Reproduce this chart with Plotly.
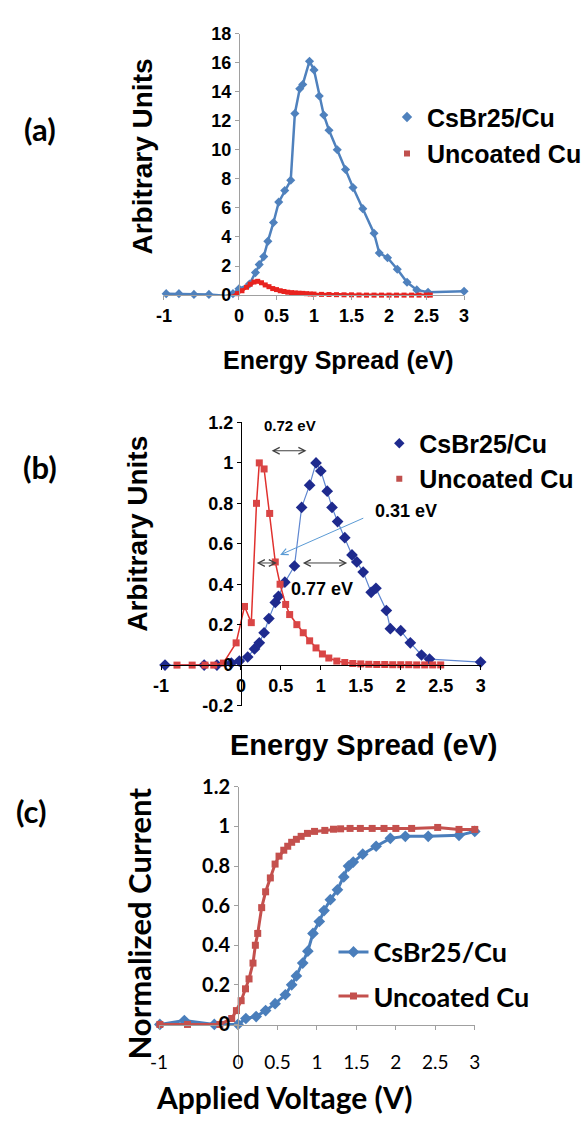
import plotly.graph_objects as go

# ---------------- Panel (a): energy spread, arbitrary units ----------------
a_cs_x = [-0.97, -0.8, -0.6, -0.4, -0.18, -0.08, 0.0, 0.14, 0.22, 0.27, 0.33, 0.385, 0.46, 0.53,
          0.61, 0.69, 0.745, 0.81, 0.85, 0.94, 1.0, 1.07, 1.13, 1.2, 1.31, 1.42, 1.52, 1.65,
          1.8, 1.87, 1.98, 2.11, 2.24, 2.37, 2.52, 3.0]
a_cs_y = [0.1, 0.1, 0.05, 0.05, -0.05, 0.1, 0.43, 0.76, 1.55, 2.1, 2.65, 3.7, 5.0, 6.4,
          7.2, 7.9, 12.5, 14.2, 14.5, 16.1, 15.5, 13.7, 12.4, 11.35, 10.0, 8.65, 7.4, 5.95,
          4.26, 2.9, 2.57, 1.78, 0.88, 0.36, 0.2, 0.27]
a_cu_x = [-0.62, -0.55, -0.45, -0.35, -0.25, -0.15, -0.08, -0.02, 0.04, 0.1, 0.15, 0.2, 0.25,
          0.3, 0.35, 0.4, 0.45, 0.5, 0.55, 0.6, 0.65, 0.7, 0.75, 0.8, 0.85, 0.9, 0.95, 1.0,
          1.1, 1.2, 1.3, 1.4, 1.5, 1.6, 1.7, 1.8, 1.9, 2.0, 2.1, 2.2, 2.3, 2.4, 2.5, 2.55]
a_cu_y = [-0.1, -0.1, -0.12, -0.1, -0.1, -0.12, -0.05, 0.1, 0.3, 0.54, 0.75, 0.9, 0.95,
          0.85, 0.7, 0.58, 0.45, 0.38, 0.3, 0.25, 0.2, 0.17, 0.15, 0.13, 0.12, 0.1, 0.08, 0.07,
          0.05, 0.04, 0.03, 0.02, 0.02, 0.01, 0.0, 0.0, 0.0, 0.0, 0.0, 0.0, 0.0, 0.0, 0.0, 0.0]

# ---------------- Panel (b): normalized energy spread ----------------
b_cs_x = [-0.95, -0.46, -0.3, -0.12, -0.02, 0.085, 0.17, 0.23, 0.29, 0.35, 0.43, 0.47, 0.55,
          0.67, 0.76, 0.86, 0.94, 1.0, 1.08, 1.14, 1.21, 1.30, 1.39, 1.45, 1.53, 1.63, 1.69,
          1.82, 1.87, 2.0, 2.12, 2.26, 2.36, 3.0]
b_cs_y = [0.0, 0.0, 0.0, 0.01, 0.02, 0.04, 0.08, 0.11, 0.16, 0.23, 0.31, 0.34, 0.41,
          0.49, 0.78, 0.89, 1.0, 0.96, 0.86, 0.78, 0.71, 0.63, 0.545, 0.51, 0.46, 0.36, 0.38,
          0.27, 0.18, 0.17, 0.11, 0.05, 0.03, 0.015]
b_cu_x = [-0.8, -0.61, -0.45, -0.34, -0.22, -0.06, 0.045, 0.13, 0.195, 0.23, 0.29, 0.36, 0.43,
          0.49, 0.56, 0.61, 0.7, 0.78, 0.86, 0.94, 1.02, 1.1, 1.2, 1.3, 1.4, 1.5, 1.6, 1.7,
          1.8, 1.9, 2.0, 2.1, 2.2, 2.3, 2.4, 2.5]
b_cu_y = [0.0, 0.0, 0.0, 0.0, 0.01, 0.11, 0.29, 0.21, 0.80, 1.0, 0.97, 0.75, 0.51,
          0.40, 0.30, 0.25, 0.20, 0.16, 0.12, 0.085, 0.055, 0.035, 0.02, 0.013, 0.008, 0.006,
          0.004, 0.003, 0.003, 0.002, 0.002, 0.002, 0.001, 0.001, 0.001, 0.001]

# ---------------- Panel (c): normalized current vs applied voltage ----------------
c_cs_x = [-0.99, -0.68, -0.3, 0.0, 0.1, 0.23, 0.35, 0.47, 0.6, 0.68, 0.74, 0.82, 0.885, 0.95,
          1.03, 1.09, 1.17, 1.26, 1.34, 1.4, 1.46, 1.58, 1.75, 1.93, 2.12, 2.41, 2.8, 3.0]
c_cs_y = [0.0, 0.02, 0.0, 0.0, 0.03, 0.04, 0.07, 0.105, 0.15, 0.2, 0.245, 0.31, 0.37, 0.46,
          0.52, 0.575, 0.63, 0.68, 0.745, 0.8, 0.82, 0.86, 0.9, 0.94, 0.95, 0.95, 0.955, 0.975]
c_cu_x = [-0.99, -0.64, -0.23, -0.08, -0.02, 0.04, 0.095, 0.14, 0.19, 0.22, 0.25, 0.3, 0.35,
          0.41, 0.47, 0.52, 0.58, 0.63, 0.68, 0.74, 0.8, 0.88, 0.97, 1.1, 1.21, 1.3, 1.42,
          1.55, 1.7, 1.85, 2.0, 2.2, 2.53, 2.8, 3.0]
c_cu_y = [0.0, 0.0, 0.0, 0.03, 0.07, 0.12, 0.18, 0.23, 0.31, 0.4, 0.46, 0.59, 0.67,
          0.74, 0.81, 0.85, 0.88, 0.9, 0.92, 0.935, 0.95, 0.965, 0.975, 0.98, 0.986, 0.988,
          0.99, 0.99, 0.99, 0.99, 0.99, 0.99, 0.995, 0.985, 0.985]

series_names = ["CsBr25/Cu", "Uncoated Cu"]
x_ticks = [-1, 0, 0.5, 1, 1.5, 2, 2.5, 3]
x_ticktext = ["-1", "0", "0.5", "1", "1.5", "2", "2.5", "3"]
a_yticks = [0, 2, 4, 6, 8, 10, 12, 14, 16, 18]
b_yticks = [-0.2, 0, 0.2, 0.4, 0.6, 0.8, 1, 1.2]
b_yticktext = ["-0.2", "0", "0.2", "0.4", "0.6", "0.8", "1", "1.2"]
c_yticks = [0, 0.2, 0.4, 0.6, 0.8, 1, 1.2]
c_yticktext = ["0", "0.2", "0.4", "0.6", "0.8", "1", "1.2"]

W, H = 587, 1125
def fx(p):
    return p / W
def fy(p):
    return 1 - p / H

ARIAL = "Arial"
CALI = "Lato"

A_BLUE, A_RED = "#4F81BD", "#E8231F"
B_NAVY, B_LBLUE, B_RED = "#1E2A8E", "#5E86D0", "#E0312E"
C_BLUE, C_RED = "#4A7EBB", "#C4504D"

fig = go.Figure()

# (a)
fig.add_trace(go.Scatter(x=a_cs_x, y=a_cs_y, mode="lines+markers", xaxis="x", yaxis="y",
                         line=dict(color=A_BLUE, width=2.5),
                         marker=dict(symbol="diamond", size=7, color=A_BLUE),
                         showlegend=False, cliponaxis=False))
fig.add_trace(go.Scatter(x=a_cu_x, y=a_cu_y, mode="lines+markers", xaxis="x", yaxis="y",
                         line=dict(color=A_RED, width=3),
                         marker=dict(symbol="square", size=5, color=A_RED),
                         showlegend=False, cliponaxis=False))
fig.add_trace(go.Scatter(x=[None], y=[None], mode="markers", xaxis="x", yaxis="y",
                         name=series_names[0], legend="legend", legendgroup="a1",
                         marker=dict(symbol="diamond", size=8, color=A_BLUE)))
fig.add_trace(go.Scatter(x=[None], y=[None], mode="markers", xaxis="x", yaxis="y",
                         name=series_names[1], legend="legend", legendgroup="a2",
                         marker=dict(symbol="square", size=6, color="#C0504D")))

# (b)
fig.add_trace(go.Scatter(x=b_cs_x, y=b_cs_y, mode="lines+markers", xaxis="x2", yaxis="y2",
                         line=dict(color=B_LBLUE, width=1.2),
                         marker=dict(symbol="diamond", size=9, color=B_NAVY),
                         showlegend=False, cliponaxis=False))
fig.add_trace(go.Scatter(x=b_cu_x, y=b_cu_y, mode="lines+markers", xaxis="x2", yaxis="y2",
                         line=dict(color=B_RED, width=1.5),
                         marker=dict(symbol="square", size=7, color="#D94545"),
                         showlegend=False, cliponaxis=False))
fig.add_trace(go.Scatter(x=[None], y=[None], mode="markers", xaxis="x2", yaxis="y2",
                         name=series_names[0], legend="legend2", legendgroup="b1",
                         marker=dict(symbol="diamond", size=8, color=B_NAVY)))
fig.add_trace(go.Scatter(x=[None], y=[None], mode="markers", xaxis="x2", yaxis="y2",
                         name=series_names[1], legend="legend2", legendgroup="b2",
                         marker=dict(symbol="square", size=6, color="#C0504D")))

# (c)
fig.add_trace(go.Scatter(x=c_cs_x, y=c_cs_y, mode="lines+markers", xaxis="x3", yaxis="y3",
                         name=series_names[0], legend="legend3", legendgroup="c1",
                         line=dict(color=C_BLUE, width=3),
                         marker=dict(symbol="diamond", size=9, color=C_BLUE),
                         cliponaxis=False))
fig.add_trace(go.Scatter(x=c_cu_x, y=c_cu_y, mode="lines+markers", xaxis="x3", yaxis="y3",
                         name=series_names[1], legend="legend3", legendgroup="c2",
                         line=dict(color=C_RED, width=3),
                         marker=dict(symbol="square", size=7, color=C_RED),
                         cliponaxis=False))

def tf(family, size, bold=True):
    return dict(family=family, size=size, color="black", weight="bold" if bold else "normal")

common = dict(showgrid=False, zeroline=False, showline=True, ticks="outside", ticklen=4)

fig.update_layout(
    width=W, height=H, margin=dict(l=0, r=0, t=0, b=0),
    paper_bgcolor="white", plot_bgcolor="rgba(0,0,0,0)",
    xaxis=dict(domain=[fx(159), fx(467)], range=[-1, 3], anchor="y",
               tickvals=x_ticks, ticktext=x_ticktext, linecolor="#A0A0A0", tickcolor="#A0A0A0",
               tickfont=tf(ARIAL, 18), **common),
    yaxis=dict(domain=[fy(288), fy(21)], range=[0, 18], anchor="free", position=fx(236),
               tickvals=a_yticks, linecolor="#A0A0A0", tickcolor="#A0A0A0",
               tickfont=tf(ARIAL, 18), **common),
    xaxis2=dict(domain=[fx(156), fx(484)], range=[-1, 3], anchor="free", position=fy(666),
                tickvals=x_ticks, ticktext=x_ticktext, linecolor="black", tickcolor="black",
                tickfont=tf(ARIAL, 18), **common),
    yaxis2=dict(domain=[fy(707), fy(418)], range=[-0.2, 1.2], anchor="free", position=fx(238),
                tickvals=b_yticks, ticktext=b_yticktext, linecolor="black", tickcolor="black",
                tickfont=tf(ARIAL, 18), **common),
    xaxis3=dict(domain=[fx(154), fx(478)], range=[-1, 3], anchor="free", position=fy(1033),
                tickvals=x_ticks, ticktext=x_ticktext, linecolor="#A0A0A0", tickcolor="#A0A0A0",
                tickfont=tf(CALI, 19, bold=False), ticklabelstandoff=16, **common),
    yaxis3=dict(domain=[fy(1073), fy(790)], range=[-0.2, 1.2], anchor="free", position=fx(235),
                tickvals=c_yticks, ticktext=c_yticktext, linecolor="#A0A0A0", tickcolor="#A0A0A0",
                tickfont=tf(CALI, 20), **common),
    legend=dict(x=fx(388), y=fy(83), xanchor="left", yanchor="top", bgcolor="rgba(0,0,0,0)",
                font=tf(ARIAL, 25), itemwidth=30, tracegroupgap=1),
    legend2=dict(x=fx(380), y=fy(416), xanchor="left", yanchor="top", bgcolor="rgba(0,0,0,0)",
                 font=tf(ARIAL, 25), itemwidth=30, tracegroupgap=0),
    legend3=dict(x=fx(333), y=fy(934), xanchor="left", yanchor="top", bgcolor="rgba(0,0,0,0)",
                 font=tf(CALI, 27), itemwidth=30, tracegroupgap=6),
)

ann = []
def txt(text, x, y, size, family, angle=0, bold=True):
    ann.append(dict(text=text, x=fx(x), y=fy(y), xref="paper", yref="paper", showarrow=False,
                    xanchor="center", yanchor="middle", textangle=angle,
                    font=tf(family, size, bold)))

# panel labels
txt("(a)", 32, 118, 31, CALI)
txt("(b)", 32, 463, 31, CALI)
txt("(c)", 23, 815, 31, CALI)
# axis titles
txt("Arbitrary Units", 137, 146, 28, ARIAL, angle=-90)
txt("Energy Spread (eV)", 338, 354, 25, ARIAL)
txt("Arbitrary Units", 131, 532, 28, ARIAL, angle=-90)
txt("Energy Spread (eV)", 364, 747, 29, ARIAL)
txt("Normalized Current", 133, 930, 31, CALI, angle=-90)
txt("Applied Voltage (V)", 282, 1107, 30, CALI)

# panel (b) width annotations (data coordinates)
def arrow(x0, y0, x1, y1, color, both=True):
    ann.append(dict(x=x1, y=y1, ax=x0, ay=y0, xref="x2", yref="y2", axref="x2", ayref="y2",
                    text="", showarrow=True, arrowhead=5, startarrowhead=5,
                    arrowside="end+start" if both else "end", arrowsize=1.3, startarrowsize=1.3,
                    arrowwidth=1, arrowcolor=color, standoff=0, startstandoff=0))

arrow(0.366, 1.06, 0.82, 1.06, "#404040")
arrow(0.18, 0.505, 0.45, 0.505, "#404040")
arrow(0.756, 0.505, 1.33, 0.505, "#404040")
arrow(1.55, 0.73, 0.49, 0.545, "#5B9BD5", both=False)

def dtxt(text, x, y, size):
    ann.append(dict(text=text, x=x, y=y, xref="x2", yref="y2", showarrow=False,
                    xanchor="center", yanchor="middle", font=tf(ARIAL, size)))

dtxt("0.72 eV", 0.62, 1.185, 15)
dtxt("0.31 eV", 2.07, 0.76, 18)
dtxt("0.77 eV", 1.02, 0.377, 18)

fig.update_layout(annotations=ann)
fig.write_html("out.html")
